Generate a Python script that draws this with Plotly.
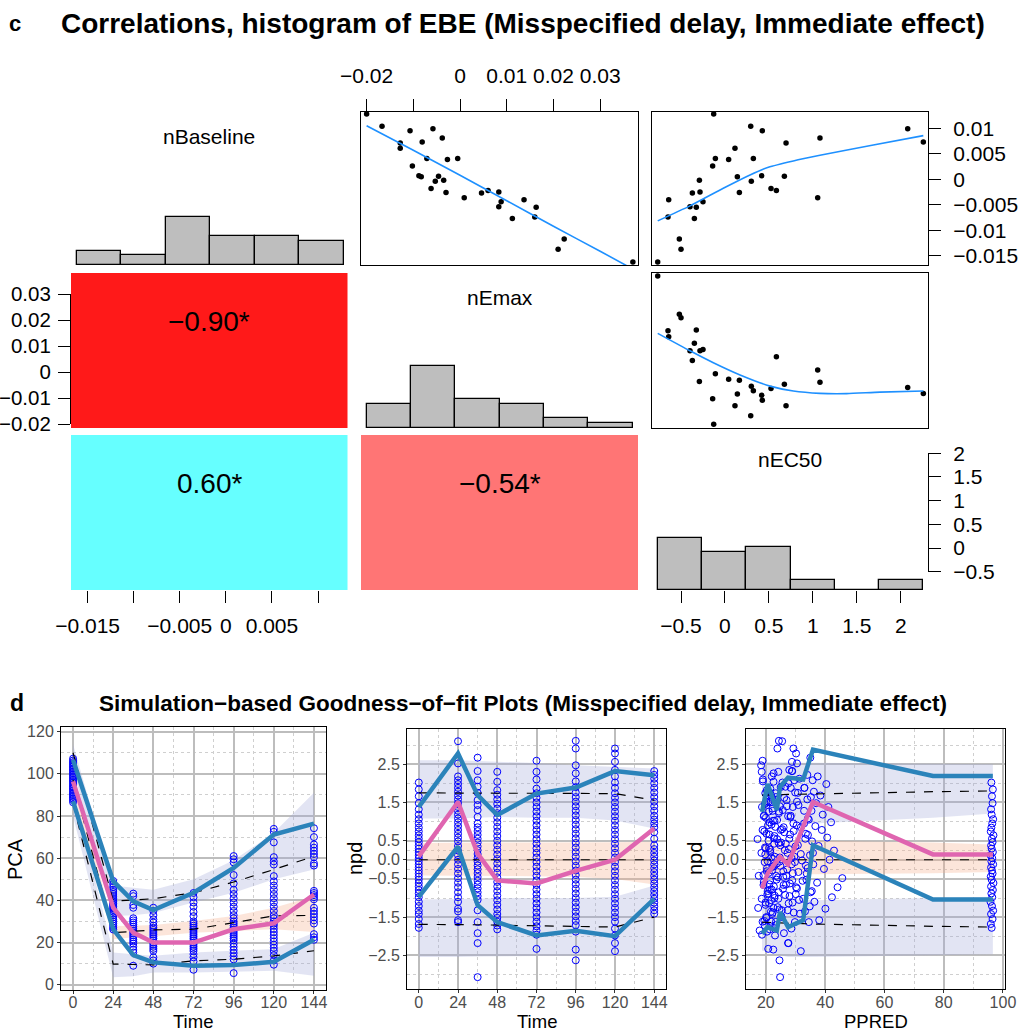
import numpy as np
import plotly.graph_objects as go

FONT = "Liberation Sans, Arial, Helvetica, sans-serif"
W, H = 1020, 1032
MINUS = "\u2212"

# ------------------------------------------------------------------
# Panel c : empirical Bayes estimates (one value per subject)
# ------------------------------------------------------------------
nBaseline = [-0.0162, -0.0074, -0.0040, -0.0117, -0.0137, -0.0054, -0.0027, -0.0077,
             -0.0055, -0.0002, -0.0025, -0.0044, 0.0026, 0.0128, 0.0041, 0.0039,
             0.0061, 0.0005, -0.0026, 0.0104, -0.0004, 0.0041, 0.0007, 0.0095,
             -0.0018, -0.0022, 0.0006, 0.0071, -0.0036, 0.0081, 0.0099, 0.0073]
nEmax = [0.0370, 0.0160, 0.0137, 0.0223, 0.0210, 0.0083, 0.0046, 0.0112,
         0.0163, -0.0035, 0.0083, 0.0088, -0.0102, -0.0200, -0.0005, -0.0027,
         -0.0128, -0.0083, -0.0030, -0.0167, -0.0053, -0.0071, -0.0088, -0.0107,
         -0.0062, 0.0060, -0.0046, -0.0128, 0.0009, -0.0038, -0.0058, -0.0081]
nEC50 = [-0.765, -0.648, -0.640, -0.519, -0.500, -0.398, -0.371, -0.348,
         -0.326, -0.291, -0.284, -0.250, -0.140, -0.128, -0.109, 0.042,
         0.114, 0.141, 0.164, 0.293, 0.300, 0.323, 0.418, 0.425,
         0.524, 0.585, 0.676, 0.695, 1.055, 1.081, 2.079, 2.257]

# smoother curves
sm_emax_x = [-0.0200, -0.0100, 0.0000, 0.0100, 0.0200, 0.0300, 0.0370]
sm_emax_base = [0.0105, 0.0057, 0.0008, -0.0042, -0.0092, -0.0141, -0.0176]
sm_ec50_x1 = [-0.765, -0.398, -0.019, 0.285, 0.494, 0.778, 1.081, 1.688, 2.257]
sm_ec50_base = [-0.00815, -0.00521, -0.00175, 0.00086, 0.00236, 0.00360, 0.00471, 0.00674, 0.00856]
sm_ec50_x2 = [-0.765, -0.398, -0.132, 0.172, 0.513, 0.778, 1.081, 1.384, 1.764, 2.257]
sm_ec50_emax = [0.0150, 0.0083, 0.0037, -0.0010, -0.0053, -0.0072, -0.0081, -0.0082, -0.0076, -0.0072]

corr_values = [-0.90, 0.60, -0.54]
corr_labels = [MINUS + "0.90*", "0.60*", MINUS + "0.54*"]
var_names = ["nBaseline", "nEmax", "nEC50"]

base_ticks = [-0.015, -0.01, -0.005, 0, 0.005, 0.01]
base_right_text = [MINUS + "0.015", MINUS + "0.01", MINUS + "0.005", "0", "0.005", "0.01"]
base_bottom_text = [MINUS + "0.015", "", MINUS + "0.005", "0", "0.005", ""]
emax_ticks = [-0.02, -0.01, 0, 0.01, 0.02, 0.03]
emax_top_text = [MINUS + "0.02", "", "0", "0.01", "0.02", "0.03"]
emax_left_text = [MINUS + "0.02", MINUS + "0.01", "0", "0.01", "0.02", "0.03"]
ec50_ticks = [-0.5, 0, 0.5, 1, 1.5, 2]
ec50_text = [MINUS + "0.5", "0", "0.5", "1", "1.5", "2"]

# ------------------------------------------------------------------
# Panel d : VPC data
# ------------------------------------------------------------------
times = [0, 24, 36, 48, 72, 96, 120, 144]

pca_obs = {
    0: [86.5, 87.5, 88.3, 89.0, 89.8, 90.5, 91.2, 92.0, 92.8, 93.5, 94.2, 95.0, 95.8, 96.5,
        97.2, 98.0, 98.8, 99.5, 100.3, 101.0, 101.8, 102.5, 103.3, 104.0, 104.8, 105.5, 106.3, 107.2],
    24: [26.2, 27.0, 28.0, 29.0, 30.0, 31.0, 32.0, 33.0, 33.8, 34.6, 35.4, 36.2, 37.0, 37.8,
         38.6, 39.4, 40.2, 41.0, 42.0, 43.0, 44.0, 45.0, 46.3, 47.8, 49.2],
    36: [9.0, 15.3, 16.5, 18.0, 19.5, 20.5, 21.5, 22.5, 23.5, 24.5, 25.5, 26.5, 27.5, 28.5,
         29.5, 30.5, 31.5, 36.5, 37.8, 42.0, 43.2],
    48: [10.0, 11.5, 13.0, 16.0, 17.0, 18.0, 19.0, 20.0, 21.0, 22.0, 23.0, 24.0, 25.0, 26.0,
         27.0, 28.0, 29.5, 31.0, 33.0, 35.0, 36.5],
    72: [7.1, 11.0, 13.0, 14.5, 16.0, 17.0, 18.0, 19.0, 20.0, 21.0, 22.0, 23.0, 24.0, 25.0,
         26.0, 27.0, 28.0, 29.0, 30.0, 32.5, 34.5, 37.0, 39.0, 41.5, 43.5],
    96: [5.5, 12.0, 13.5, 15.0, 16.5, 18.0, 19.5, 21.0, 22.0, 23.0, 24.0, 25.0, 26.0, 27.0,
         28.0, 29.0, 30.0, 31.5, 33.0, 35.0, 37.0, 39.0, 41.0, 43.0, 45.0, 48.0, 52.0, 58.0,
         59.5, 61.0],
    120: [9.5, 11.5, 14.0, 16.0, 17.5, 19.0, 20.5, 22.0, 23.5, 25.0, 26.5, 28.0, 29.0, 30.0,
          31.5, 33.0, 35.0, 37.0, 39.0, 41.0, 43.0, 45.0, 47.0, 49.0, 51.5, 57.0, 58.5, 60.5,
          67.5, 72.5, 73.9],
    144: [21.3, 22.5, 24.0, 29.0, 30.5, 32.0, 33.5, 35.0, 36.5, 40.5, 41.5, 42.5, 43.5, 44.5,
          56.5, 57.5, 60.5, 62.0, 63.5, 65.0, 66.5, 70.0, 74.2],
}

pca_obs_p05 = [86.9, 26.3, 14.0, 10.6, 9.0, 9.3, 10.9, 21.3]
pca_obs_p50 = [96.4, 36.5, 24.7, 20.0, 20.0, 26.3, 29.1, 42.8]
pca_obs_p95 = [106.6, 49.1, 39.5, 35.4, 43.6, 55.4, 71.2, 76.4]
pca_sim_p05 = [86.0, 9.8, 9.6, 9.4, 11.3, 12.1, 13.7, 16.1]
pca_sim_p50 = [97.0, 24.7, 25.3, 26.0, 26.3, 29.4, 32.6, 32.9]
pca_sim_p95 = [110.0, 39.7, 40.2, 40.8, 43.6, 48.7, 54.6, 60.9]
pca_pi05_lo = [80.0, 3.5, 4.0, 5.8, 5.8, 6.1, 6.6, 4.3]
pca_pi05_hi = [92.0, 15.3, 14.5, 13.7, 15.3, 16.0, 16.9, 24.7]
pca_pi50_lo = [92.0, 21.6, 22.5, 23.0, 24.7, 25.5, 26.3, 25.0]
pca_pi50_hi = [101.0, 27.9, 28.0, 28.3, 30.2, 32.6, 36.5, 42.0]
pca_pi95_lo = [102.0, 32.6, 33.0, 34.0, 39.0, 43.6, 50.0, 54.6]
pca_pi95_hi = [114.0, 47.0, 46.0, 45.0, 50.0, 59.0, 72.0, 91.0]

npd_obs = {
    0: [-1.78, -1.68, -1.55, -1.42, -1.33, -1.21, -1.10, -0.98, -0.88, -0.79,
        -0.70, -0.61, -0.52, -0.44, -0.36, -0.28, -0.20, -0.12, -0.04, 0.04,
        0.12, 0.20, 0.29, 0.37, 0.46, 0.55, 0.64, 0.74, 0.84, 0.95,
        1.06, 1.18, 1.32, 1.48, 1.66, 1.84, 2.02],
    24: [-1.63, -1.58, -1.35, -1.28, -1.10, -0.98, -0.85, -0.72, -0.60, -0.48,
         -0.36, -0.24, -0.12, 0.0, 0.12, 0.24, 0.36, 0.48, 0.58, 0.68,
         0.78, 0.88, 0.98, 1.08, 1.18, 1.28, 1.38, 1.48, 1.58, 1.68,
         1.78, 1.88, 1.98, 2.08, 2.18, 2.52, 3.10],
    36: [-3.07, -2.18, -1.92, -1.63, -1.32, -1.05, -0.95, -0.85, -0.75, -0.65,
         -0.55, -0.45, -0.35, -0.25, -0.15, -0.05, 0.05, 0.15, 0.25, 0.35,
         0.45, 0.55, 0.65, 0.75, 0.85, 0.95, 1.12, 1.30, 1.43, 1.56,
         1.75, 1.91, 2.08, 2.32, 2.67],
    48: [-1.82, -1.72, -1.62, -1.52, -1.42, -1.30, -1.18, -1.06, -0.94, -0.82,
         -0.70, -0.58, -0.46, -0.34, -0.22, -0.10, 0.02, 0.14, 0.26, 0.38,
         0.50, 0.62, 0.74, 0.86, 0.98, 1.10, 1.22, 1.34, 1.46, 1.58,
         1.70, 1.82, 2.04, 2.30],
    72: [-2.33, -1.96, -1.85, -1.74, -1.62, -1.50, -1.38, -1.26, -1.14, -1.02,
         -0.90, -0.78, -0.66, -0.54, -0.42, -0.30, -0.18, -0.06, 0.06, 0.18,
         0.30, 0.42, 0.54, 0.66, 0.78, 0.90, 1.02, 1.14, 1.26, 1.38,
         1.50, 1.62, 1.74, 1.86, 2.10, 2.30, 2.59],
    96: [-2.63, -2.35, -1.88, -1.71, -1.60, -1.48, -1.36, -1.24, -1.12, -1.00,
         -0.88, -0.76, -0.64, -0.52, -0.40, -0.28, -0.16, -0.04, 0.08, 0.20,
         0.32, 0.44, 0.56, 0.68, 0.80, 0.92, 1.04, 1.16, 1.28, 1.40,
         1.52, 1.64, 1.76, 1.90, 2.05, 2.26, 2.47, 2.91, 3.11],
    120: [-2.39, -2.18, -1.98, -1.80, -1.62, -1.50, -1.38, -1.26, -1.14, -1.02,
          -0.90, -0.78, -0.66, -0.54, -0.42, -0.30, -0.18, -0.06, 0.06, 0.18,
          0.30, 0.42, 0.54, 0.66, 0.78, 0.90, 1.02, 1.14, 1.26, 1.38,
          1.50, 1.62, 1.74, 1.88, 2.02, 2.18, 2.35, 2.56, 2.78, 2.91],
    144: [-1.41, -1.32, -1.22, -1.12, -1.02, -0.92, -0.82, -0.72, -0.62, -0.52,
          -0.42, -0.32, -0.22, -0.12, -0.02, 0.08, 0.18, 0.28, 0.38, 0.55,
          0.72, 0.85, 0.95, 1.05, 1.15, 1.28, 1.40, 1.52, 1.64, 1.76,
          1.88, 2.00, 2.12, 2.22, 2.32],
}

ppred_obs = {
    0: [96.2, 95.9, 96.5, 96.0, 96.7, 96.3, 95.8, 96.4, 96.1, 96.6,
        96.0, 96.8, 96.2, 95.9, 96.5, 96.3, 96.0, 96.7, 96.1, 96.4,
        95.8, 96.6, 96.2, 96.0, 96.5, 96.3, 96.8, 95.9, 96.1, 96.4,
        96.7, 96.2, 96.0, 96.5, 96.3, 96.6, 96.1],
    24: [34.5, 38.0, 33.2, 40.1, 36.4, 42.3, 35.1, 44.2, 37.3, 45.8,
         33.8, 39.6, 36.0, 41.5, 34.9, 43.0, 37.8, 35.6, 40.7, 33.5,
         38.9, 36.7, 42.0, 34.2, 39.2, 35.4, 41.1, 37.0, 34.0, 38.4,
         36.2, 33.0, 40.4, 35.8, 37.5, 30.5, 25.5],
    36: [24.8, 27.5, 26.1, 29.8, 25.4, 31.2, 28.0, 24.3, 30.5, 26.8,
         32.4, 25.9, 29.1, 27.2, 33.5, 24.6, 28.6, 31.8, 26.4, 30.0,
         25.1, 27.9, 34.2, 29.4, 26.0, 32.9, 28.3, 25.7, 31.0, 27.0,
         30.8, 26.6, 29.6, 28.8, 35.0],
    48: [21.3, 19.6, 23.4, 20.2, 22.1, 24.6, 19.9, 21.8, 23.0, 20.6,
         22.7, 19.3, 24.1, 21.0, 20.4, 23.7, 22.4, 19.8, 21.5, 24.9,
         20.9, 22.9, 19.5, 23.2, 21.2, 20.0, 24.4, 22.2, 19.7, 23.9,
         21.7, 20.3, 22.6, 24.2],
    72: [20.8, 18.7, 17.9, 21.6, 18.9, 20.1, 22.3, 17.4, 21.1, 18.6,
         20.5, 22.0, 19.2, 21.4, 17.6, 20.3, 22.6, 19.6, 21.8, 18.5,
         20.0, 22.8, 17.2, 21.2, 18.9, 20.7, 22.4, 19.3, 21.0, 18.7,
         20.2, 22.1, 19.8, 21.5, 19.0, 18.6, 18.9],
    96: [24.6, 22.5, 20.4, 23.3, 19.5, 25.2, 21.7, 24.0, 19.9, 22.9,
         20.8, 25.8, 21.2, 23.6, 19.2, 22.1, 24.9, 20.6, 23.0, 21.5,
         19.7, 24.3, 22.7, 20.2, 25.5, 21.9, 23.8, 19.4, 22.3, 24.7,
         20.9, 23.4, 21.3, 25.0, 19.0, 22.6, 18.4, 23.9, 24.4],
    120: [31.8, 27.6, 23.1, 28.6, 21.8, 25.3, 29.4, 22.6, 27.7, 24.2,
          30.1, 21.4, 26.0, 28.9, 23.5, 25.9, 22.2, 29.8, 24.7, 27.3,
          21.1, 26.7, 23.8, 28.2, 25.0, 30.4, 22.9, 27.5, 24.4, 29.1,
          21.6, 26.2, 23.3, 28.4, 25.6, 22.0, 27.9, 28.8, 30.2, 29.3],
    144: [31.5, 27.4, 34.8, 29.0, 32.6, 26.5, 35.5, 30.2, 28.1, 33.7,
          26.9, 31.0, 34.1, 28.7, 32.2, 29.6, 35.9, 27.8, 30.8, 33.3,
          26.2, 31.8, 29.3, 34.5, 28.4, 32.9, 27.1, 30.5, 35.2, 29.9,
          33.0, 27.6, 31.3, 34.0, 28.9],
}

npd_obs_p05 = [-0.97, 0.34, -1.19, -1.63, -1.98, -1.86, -2.00, -1.02]
npd_obs_p50 = [0.09, 1.51, 0.16, -0.54, -0.62, -0.29, 0.00, 0.82]
npd_obs_p95 = [1.38, 2.78, 1.69, 1.17, 1.73, 1.89, 2.32, 2.21]
npd_sim_p05 = [-1.69, -1.69, -1.70, -1.71, -1.73, -1.74, -1.76, -1.50]
npd_sim_p50 = [0.0, 0.0, 0.0, 0.0, 0.0, 0.0, 0.0, 0.0]
npd_sim_p95 = [1.75, 1.74, 1.74, 1.74, 1.74, 1.74, 1.73, 1.56]
npd_pi05_lo = [-2.54, -2.54, -2.53, -2.52, -2.52, -2.51, -2.50, -2.50]
npd_pi05_hi = [-1.04, -1.03, -1.02, -1.00, -1.00, -1.00, -0.97, -0.67]
npd_pi50_lo = [-0.41, -0.42, -0.42, -0.42, -0.43, -0.45, -0.50, -0.65]
npd_pi50_hi = [0.44, 0.45, 0.45, 0.45, 0.45, 0.45, 0.46, 0.47]
npd_pi95_lo = [1.08, 1.08, 1.10, 1.12, 1.10, 1.10, 1.03, 0.82]
npd_pi95_hi = [2.60, 2.60, 2.58, 2.56, 2.53, 2.47, 2.43, 2.39]

ppred_bins = [18.7, 20.6, 23.7, 24.8, 27.5, 32.6, 35.9, 76.4, 96.6]
pp_obs_p05 = [-1.93, -1.76, -1.85, -1.37, -1.76, -1.58, 0.38, -1.04, -1.04]
pp_obs_p50 = [-0.75, -0.36, -0.03, 0.07, -0.12, 0.89, 1.51, 0.14, 0.14]
pp_obs_p95 = [1.25, 1.98, 1.30, 1.91, 2.15, 2.10, 2.88, 2.19, 2.19]
pp_sim_p05 = [-1.63, -1.64, -1.65, -1.65, -1.66, -1.67, -1.68, -1.74, -1.76]
pp_sim_p50 = [0.0, 0.0, 0.0, 0.0, 0.0, 0.0, 0.0, 0.0, 0.0]
pp_sim_p95 = [1.69, 1.69, 1.70, 1.70, 1.71, 1.72, 1.72, 1.78, 1.80]
pp_pi05_lo = [-2.37, -2.42, -2.48, -2.50, -2.54, -2.54, -2.54, -2.50, -2.47]
pp_pi05_hi = [-0.97, -0.99, -1.00, -1.00, -1.02, -1.04, -1.06, -1.00, -0.97]
pp_pi50_lo = [-0.38, -0.38, -0.38, -0.38, -0.38, -0.38, -0.38, -0.35, -0.32]
pp_pi50_hi = [0.45, 0.45, 0.45, 0.45, 0.45, 0.47, 0.50, 0.45, 0.40]
pp_pi95_lo = [1.12, 1.10, 1.05, 1.02, 0.98, 0.96, 0.95, 1.10, 1.21]
pp_pi95_hi = [2.56, 2.56, 2.56, 2.55, 2.55, 2.54, 2.54, 2.51, 2.50]

# ------------------------------------------------------------------
# helpers
# ------------------------------------------------------------------
def xd(a, b):
    return [a / W, b / W]


def yd(top, bottom):
    return [1 - bottom / H, 1 - top / H]


def ref(letter, k):
    return letter if k == 1 else f"{letter}{k}"


def lname(letter, k):
    return f"{letter}axis" if k == 1 else f"{letter}axis{k}"


col_px = [(71, 347.5), (361, 638), (652, 928)]
row_px = [(112, 265), (273, 428), (435, 590)]
col_rng = [[-0.0168, 0.0132], [-0.0212, 0.0381], [-0.83, 2.31]]
row_rng = [[-0.0168, 0.0132], [-0.0214, 0.0382], [-0.89, 2.39]]
hist_rng = [[0, 31.7], [0, 32.6], [0, 32.6]]
data_vars = [nBaseline, nEmax, nEC50]
CORR_SCALE = [[0.0, "rgb(255,0,0)"], [0.5, "rgb(255,255,255)"], [1.0, "rgb(0,255,255)"]]

fig = go.Figure()
layout = {}
annotations = []

tickfont_c = dict(family=FONT, size=21, color="black")
tick_c = dict(ticks="outside", ticklen=12, tickwidth=1.2, tickcolor="black",
              tickfont=tickfont_c, showticklabels=True)
box = dict(showline=True, mirror=True, linecolor="black", linewidth=1.2,
           showticklabels=False, ticks="")

for r in range(3):
    for c in range(3):
        k = r * 3 + c + 1
        xa = dict(domain=xd(*col_px[c]), anchor=ref("y", k), range=col_rng[c],
                  automargin=False, showgrid=False, zeroline=False, fixedrange=True)
        ya = dict(domain=yd(*row_px[r]), anchor=ref("x", k),
                  automargin=False, showgrid=False, zeroline=False, fixedrange=True)
        if r == c:
            vals = np.asarray(data_vars[r])
            edges = np.linspace(vals.min(), vals.max(), 7)
            counts, _ = np.histogram(vals, bins=edges)
            centers = (edges[:-1] + edges[1:]) / 2
            fig.add_trace(go.Bar(x=centers, y=counts, width=[edges[1] - edges[0]] * 6,
                                 marker=dict(color="#BEBEBE", line=dict(color="black", width=1.3)),
                                 xaxis=ref("x", k), yaxis=ref("y", k), hoverinfo="skip"))
            ya.update(range=hist_rng[r], visible=False)
            xa.update(showline=False, showticklabels=False, ticks="")
            annotations.append(dict(text=var_names[r], xref=ref("x", k) + " domain",
                                    yref=ref("y", k) + " domain", x=0.5, y=0.84,
                                    xanchor="center", yanchor="middle", showarrow=False,
                                    font=dict(family=FONT, size=21, color="black")))
        elif c > r:
            if (r, c) == (0, 1):
                px_, py_, sx, sy = nEmax, nBaseline, sm_emax_x, sm_emax_base
            elif (r, c) == (0, 2):
                px_, py_, sx, sy = nEC50, nBaseline, sm_ec50_x1, sm_ec50_base
            else:
                px_, py_, sx, sy = nEC50, nEmax, sm_ec50_x2, sm_ec50_emax
            fig.add_trace(go.Scatter(x=px_, y=py_, mode="markers",
                                     marker=dict(color="black", size=5.5),
                                     xaxis=ref("x", k), yaxis=ref("y", k), hoverinfo="skip"))
            fig.add_trace(go.Scatter(x=sx, y=sy, mode="lines",
                                     line=dict(color="#1E90FF", width=1.6, shape="spline", smoothing=0.6),
                                     xaxis=ref("x", k), yaxis=ref("y", k), hoverinfo="skip"))
            ya.update(range=row_rng[r], **box)
            xa.update(**box)
        else:
            idx = {(1, 0): 0, (2, 0): 1, (2, 1): 2}[(r, c)]
            fig.add_trace(go.Heatmap(z=[[corr_values[idx]]], x=col_rng[c], y=[0, 1],
                                     zmin=-1, zmax=1, colorscale=CORR_SCALE, showscale=False,
                                     xaxis=ref("x", k), yaxis=ref("y", k), hoverinfo="skip"))
            annotations.append(dict(text=corr_labels[idx], xref=ref("x", k) + " domain",
                                    yref=ref("y", k), x=0.5, y=0.69,
                                    xanchor="center", yanchor="middle", showarrow=False,
                                    font=dict(family=FONT, size=28, color="black")))
            ya.update(range=[0, 1], visible=False)
            xa.update(showline=False, showticklabels=False, ticks="")
        layout[lname("x", k)] = xa
        layout[lname("y", k)] = ya

# outer axes of the pairs plot
layout["xaxis2"].update(side="top", tickvals=emax_ticks, ticktext=emax_top_text,
                        ticklabelstandoff=8, **tick_c)
layout["yaxis3"].update(side="right", tickvals=base_ticks, ticktext=base_right_text,
                        ticklabelstandoff=8, **tick_c)
layout["xaxis7"].update(side="bottom", tickvals=base_ticks,
                        ticktext=base_bottom_text, ticklabelstandoff=5, **tick_c)
layout["xaxis9"].update(side="bottom", tickvals=ec50_ticks, ticktext=ec50_text,
                        ticklabelstandoff=5, **tick_c)
left_tick = dict(tick_c, tickfont=dict(family=FONT, size=20.5, color="black"))
layout["yaxis10"] = dict(domain=yd(294.3, 424.3), anchor="x4", range=[-0.02, 0.03], side="left",
                         showline=True, linecolor="black", linewidth=1.2, automargin=False,
                         showgrid=False, zeroline=False, fixedrange=True,
                         tickvals=emax_ticks, ticktext=emax_left_text, ticklabelstandoff=3, **left_tick)
layout["yaxis11"] = dict(domain=yd(453.3, 571.7), anchor="x9", range=[-0.5, 2], side="right",
                         showline=True, linecolor="black", linewidth=1.2, automargin=False,
                         showgrid=False, zeroline=False, fixedrange=True,
                         tickvals=ec50_ticks, ticktext=ec50_text, ticklabelstandoff=8, **tick_c)
fig.add_trace(go.Scatter(x=[], y=[], xaxis="x4", yaxis="y10", hoverinfo="skip"))
fig.add_trace(go.Scatter(x=[], y=[], xaxis="x9", yaxis="y11", hoverinfo="skip"))

# ------------------------------------------------------------------
# Panel d
# ------------------------------------------------------------------
LAV = "rgba(160,165,215,0.30)"
PEACH = "rgba(245,175,140,0.32)"
BLUE_L = "#2B83BA"
PINK_L = "#DF65B0"


def band(xs, lo, hi, color, xa, ya):
    return go.Scatter(x=list(xs) + list(xs)[::-1], y=list(hi) + list(lo)[::-1],
                      fill="toself", fillcolor=color, line=dict(width=0), mode="lines",
                      xaxis=xa, yaxis=ya, hoverinfo="skip")


def dline(xs, ys, xa, ya):
    return go.Scatter(x=xs, y=ys, mode="lines", line=dict(color="black", width=1.2, dash="dash"),
                      xaxis=xa, yaxis=ya, hoverinfo="skip")


def tline(xs, ys, color, xa, ya):
    return go.Scatter(x=xs, y=ys, mode="lines", line=dict(color=color, width=4.5),
                      xaxis=xa, yaxis=ya, hoverinfo="skip")


def pts(xs, ys, xa, ya):
    return go.Scatter(x=xs, y=ys, mode="markers",
                      marker=dict(symbol="circle-open", color="#0000FF", size=7,
                                  line=dict(width=1, color="#0000FF")),
                      xaxis=xa, yaxis=ya, hoverinfo="skip")


panels = [
    dict(xa="x12", ya="y12", xs=times,
         bands=[(pca_pi05_lo, pca_pi05_hi, LAV), (pca_pi95_lo, pca_pi95_hi, LAV), (pca_pi50_lo, pca_pi50_hi, PEACH)],
         sims=[pca_sim_p05, pca_sim_p50, pca_sim_p95],
         obs=[(pca_obs_p05, BLUE_L), (pca_obs_p95, BLUE_L), (pca_obs_p50, PINK_L)],
         px=[t for t in times for _ in pca_obs[t]], py=[v for t in times for v in pca_obs[t]]),
    dict(xa="x13", ya="y13", xs=times,
         bands=[(npd_pi05_lo, npd_pi05_hi, LAV), (npd_pi95_lo, npd_pi95_hi, LAV), (npd_pi50_lo, npd_pi50_hi, PEACH)],
         sims=[npd_sim_p05, npd_sim_p50, npd_sim_p95],
         obs=[(npd_obs_p05, BLUE_L), (npd_obs_p95, BLUE_L), (npd_obs_p50, PINK_L)],
         px=[t for t in times for _ in npd_obs[t]], py=[v for t in times for v in npd_obs[t]]),
    dict(xa="x14", ya="y14", xs=ppred_bins,
         bands=[(pp_pi05_lo, pp_pi05_hi, LAV), (pp_pi95_lo, pp_pi95_hi, LAV), (pp_pi50_lo, pp_pi50_hi, PEACH)],
         sims=[pp_sim_p05, pp_sim_p50, pp_sim_p95],
         obs=[(pp_obs_p05, BLUE_L), (pp_obs_p95, BLUE_L), (pp_obs_p50, PINK_L)],
         px=[p for t in times for p in ppred_obs[t][:len(npd_obs[t])]],
         py=[v for t in times for v in npd_obs[t][:len(ppred_obs[t])]]),
]

for p in panels:
    for lo, hi, colr in p["bands"]:
        fig.add_trace(band(p["xs"], lo, hi, colr, p["xa"], p["ya"]))
    fig.add_trace(pts(p["px"], p["py"], p["xa"], p["ya"]))
    for s in p["sims"]:
        fig.add_trace(dline(p["xs"], s, p["xa"], p["ya"]))
    for o, colr in p["obs"]:
        fig.add_trace(tline(p["xs"], o, colr, p["xa"], p["ya"]))

ggx = dict(showline=True, mirror=True, linecolor="black", linewidth=1,
           ticks="outside", ticklen=3, tickwidth=1, tickcolor="#333333",
           tickfont=dict(family=FONT, size=16, color="#4D4D4D"), automargin=False,
           showgrid=True, gridcolor="#BDBDBD", gridwidth=1.5, zeroline=False, fixedrange=True)

time_ticks = [0, 24, 48, 72, 96, 120, 144]
time_minor = [12, 36, 60, 84, 108, 132]
npd_ticks = [-2.5, -1.5, -0.5, 0, 0.5, 1.5, 2.5]
npd_text = [MINUS + "2.5", MINUS + "1.5", MINUS + "0.5", "0.0", "0.5", "1.5", "2.5"]
npd_minor = [-3, -2, -1, -0.25, 0.25, 1, 2, 3]
minor_style = dict(showgrid=True, gridcolor="#CFCFCF", gridwidth=0.8, griddash="dot")
title_font = dict(family=FONT, size=18.5, color="black")

layout["xaxis12"] = dict(domain=xd(61, 326), anchor="y12", range=[-7.2, 151.2], tickvals=time_ticks,
                         minor=dict(tickvals=time_minor, **minor_style), ticklabelstandoff=-5, **ggx)
layout["yaxis12"] = dict(domain=yd(727, 990), anchor="x12", range=[-2.5, 122.2],
                         tickvals=[0, 20, 40, 60, 80, 100, 120],
                         minor=dict(tickvals=[10, 30, 50, 70, 90, 110], **minor_style), **ggx)
layout["xaxis13"] = dict(domain=xd(407, 666), anchor="y13", range=[-7.2, 151.2], tickvals=time_ticks,
                         minor=dict(tickvals=time_minor, **minor_style), ticklabelstandoff=-4, **ggx)
layout["yaxis13"] = dict(domain=yd(729, 989), anchor="x13", range=[-3.38, 3.42],
                         tickvals=npd_ticks, ticktext=npd_text,
                         minor=dict(tickvals=npd_minor, **minor_style), **ggx)
layout["xaxis14"] = dict(domain=xd(746, 1005), anchor="y14", range=[13.3, 100.7],
                         tickvals=[20, 40, 60, 80, 100],
                         minor=dict(tickvals=[30, 50, 70, 90], **minor_style), ticklabelstandoff=-4, **ggx)
layout["yaxis14"] = dict(domain=yd(729, 989), anchor="x14", range=[-3.38, 3.42],
                         tickvals=npd_ticks, ticktext=npd_text,
                         minor=dict(tickvals=npd_minor, **minor_style), **ggx)

# axis titles of panel d
for xa_, txt in (("x12", "Time"), ("x13", "Time"), ("x14", "PPRED")):
    annotations.append(dict(text=txt, xref=xa_ + " domain", yref="paper", x=0.5, y=1 - 1021.5 / H,
                            xanchor="center", yanchor="middle", showarrow=False, font=title_font))
for xpix, txt in ((15, "PCA"), (355, "npd"), (695, "npd")):
    annotations.append(dict(text=txt, xref="paper", yref="paper", x=xpix / W, y=1 - 859 / H,
                            xanchor="center", yanchor="middle", textangle=-90,
                            showarrow=False, font=dict(family=FONT, size=20, color="black")))

# titles
annotations += [
    dict(text="<b>c</b>", xref="paper", yref="paper", x=15 / W, y=1 - 23 / H,
         xanchor="center", yanchor="middle", showarrow=False,
         font=dict(family=FONT, size=22, color="black")),
    dict(text="<b>Correlations, histogram of EBE (Misspecified delay, Immediate effect)</b>",
         xref="paper", yref="paper", x=523 / W, y=1 - 23 / H, xanchor="center", yanchor="middle",
         showarrow=False, font=dict(family=FONT, size=28, color="black")),
    dict(text="<b>d</b>", xref="paper", yref="paper", x=17 / W, y=1 - 703 / H,
         xanchor="center", yanchor="middle", showarrow=False,
         font=dict(family=FONT, size=23, color="black")),
    dict(text="<b>Simulation" + MINUS + "based Goodness" + MINUS + "of" + MINUS
         + "fit Plots (Misspecified delay, Immediate effect)</b>",
         xref="paper", yref="paper", x=523 / W, y=1 - 703 / H, xanchor="center", yanchor="middle",
         showarrow=False, font=dict(family=FONT, size=22.5, color="black")),
]

fig.update_layout(width=W, height=H, margin=dict(l=0, r=0, t=0, b=0, autoexpand=False),
                  paper_bgcolor="white", plot_bgcolor="rgba(0,0,0,0)", showlegend=False,
                  font=dict(family=FONT), annotations=annotations,
                  bargap=0, **layout)

fig.write_html("out.html", config={"displayModeBar": False})
